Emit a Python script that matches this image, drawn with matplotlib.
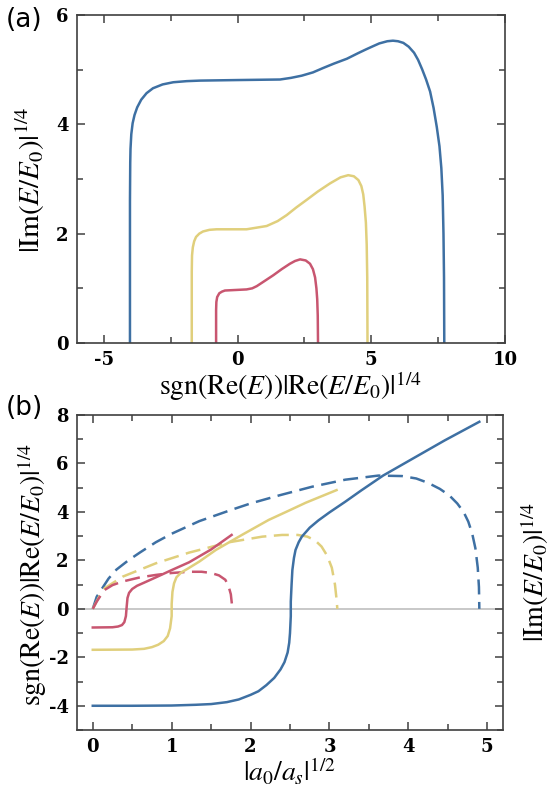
import matplotlib
matplotlib.use("Agg")
import matplotlib.pyplot as plt
from matplotlib.ticker import MultipleLocator
from matplotlib.font_manager import FontProperties

plt.rcParams['mathtext.fontset'] = 'stix'
plt.rcParams['axes.unicode_minus'] = False

BLUE = "#3e70a3"
YELLOW = "#e0cf7c"
RED = "#c85670"

# ---------------- panel (a) data: Im vs Re ----------------
blue_a_re = [-4.02, -4.02, -4.01, -4.0, -3.97, -3.92, -3.85, -3.75, -3.6, -3.4, -3.16, -2.8, -2.4, -1.9, -1.4, 0.0,
             1.59, 2.0, 2.4, 2.82, 3.2, 3.6, 4.09, 4.5, 4.8, 5.07, 5.3, 5.6, 5.81, 6.0, 6.2, 6.4, 6.6, 6.75, 6.9,
             7.05, 7.2, 7.33, 7.45, 7.55, 7.62, 7.67, 7.70, 7.72, 7.73]
blue_a_im = [0.0, 2.6, 3.3, 3.55, 3.82, 4.02, 4.17, 4.31, 4.45, 4.57, 4.66, 4.73, 4.77, 4.79, 4.80, 4.81,
             4.82, 4.85, 4.89, 4.95, 5.03, 5.11, 5.2, 5.3, 5.37, 5.43, 5.48, 5.52, 5.53, 5.52, 5.49, 5.42, 5.31,
             5.18, 5.01, 4.82, 4.6, 4.3, 3.95, 3.6, 3.2, 2.7, 2.0, 1.2, 0.0]

yellow_a_re = [-1.71, -1.71, -1.70, -1.67, -1.62, -1.55, -1.43, -1.29, -1.05, -0.78, 0.34, 1.09, 1.5, 1.84, 2.2,
               2.59, 3.0, 3.46, 3.85, 4.14, 4.35, 4.52, 4.63, 4.70, 4.75, 4.80, 4.83, 4.85, 4.86]
yellow_a_im = [0.0, 1.3, 1.6, 1.75, 1.86, 1.94, 2.0, 2.04, 2.07, 2.08, 2.08, 2.14, 2.23, 2.34, 2.48,
               2.62, 2.77, 2.92, 3.03, 3.07, 3.05, 2.98, 2.87, 2.72, 2.5, 2.2, 1.8, 1.2, 0.0]

red_a_re = [-0.80, -0.80, -0.79, -0.76, -0.68, -0.58, -0.47, 0.34, 0.55, 0.72, 1.0, 1.34, 1.65, 1.96, 2.15, 2.34,
            2.55, 2.71, 2.82, 2.90, 2.95, 2.98, 3.0, 3.01]
red_a_im = [0.0, 0.6, 0.75, 0.84, 0.91, 0.94, 0.96, 0.98, 1.0, 1.04, 1.13, 1.24, 1.35, 1.45, 1.50, 1.53,
            1.51, 1.45, 1.35, 1.2, 1.0, 0.8, 0.5, 0.0]

# ---------------- panel (b) data vs |a0/as|^(1/2) ----------------
blue_s_re = [0.0, 0.5, 1.0, 1.3, 1.5, 1.7, 1.85, 2.0, 2.1, 2.2, 2.3, 2.38, 2.43, 2.47, 2.49, 2.50, 2.51, 2.51,
             2.52, 2.53, 2.55, 2.57, 2.61, 2.65, 2.75, 2.86, 3.0, 3.2, 3.4, 3.68, 4.04, 4.46, 4.90]
blue_re = [-4.0, -4.0, -3.99, -3.96, -3.93, -3.85, -3.74, -3.55, -3.4, -3.15, -2.85, -2.5, -2.2, -1.8, -1.4, -1.0,
           -0.3, 0.3, 1.0, 1.6, 2.1, 2.43, 2.75, 2.98, 3.35, 3.65, 3.98, 4.42, 4.88, 5.5, 6.17, 6.95, 7.72]
blue_s_im = [0.0, 0.05, 0.12, 0.2, 0.3, 0.45, 0.6, 0.8, 1.0, 1.35, 1.77, 2.0, 2.36, 2.78, 3.2, 3.62, 3.92, 4.1,
             4.25, 4.4, 4.52, 4.62, 4.7, 4.76, 4.81, 4.85, 4.88, 4.895, 4.9]
blue_im = [0.0, 0.5, 0.85, 1.25, 1.62, 2.0, 2.33, 2.75, 3.1, 3.62, 4.1, 4.35, 4.68, 5.04, 5.33, 5.50, 5.48, 5.38,
           5.2, 4.95, 4.68, 4.35, 4.0, 3.6, 3.1, 2.5, 1.7, 0.9, 0.0]

yellow_s_re = [0.0, 0.5, 0.65, 0.75, 0.83, 0.9, 0.95, 0.98, 1.0, 1.0, 1.01, 1.03, 1.06, 1.12, 1.2, 1.35, 1.56,
               1.89, 2.23, 2.45, 2.7, 3.09]
yellow_re = [-1.69, -1.68, -1.65, -1.58, -1.48, -1.33, -1.12, -0.8, -0.3, 0.2, 0.7, 1.05, 1.3, 1.5, 1.65, 1.95,
             2.43, 3.05, 3.67, 4.0, 4.38, 4.9]
yellow_s_im = [0.0, 0.08, 0.15, 0.38, 0.8, 1.22, 1.73, 2.15, 2.4, 2.6, 2.72, 2.82, 2.9, 2.97, 3.03, 3.07, 3.09, 3.1]
yellow_im = [0.0, 0.5, 0.85, 1.33, 1.88, 2.32, 2.75, 2.98, 3.05, 3.05, 2.98, 2.82, 2.57, 2.2, 1.7, 1.0, 0.4, 0.0]

red_s_re = [0.0, 0.25, 0.32, 0.37, 0.40, 0.42, 0.43, 0.44, 0.46, 0.5, 0.56, 0.65, 0.8, 1.0, 1.22, 1.5, 1.76]
red_re = [-0.77, -0.76, -0.73, -0.67, -0.55, -0.3, 0.1, 0.45, 0.66, 0.82, 0.95, 1.08, 1.3, 1.6, 1.92, 2.45, 3.05]
red_s_im = [0.0, 0.05, 0.1, 0.15, 0.25, 0.38, 0.6, 0.8, 1.0, 1.22, 1.38, 1.5, 1.6, 1.68, 1.72, 1.75, 1.77]
red_im = [0.0, 0.3, 0.55, 0.78, 0.98, 1.13, 1.3, 1.40, 1.48, 1.53, 1.53, 1.48, 1.38, 1.2, 0.95, 0.6, 0.0]

W, H = 559, 793
fig = plt.figure(figsize=(W / 100, H / 100), dpi=100)


def box(l, r, t, b):
    return [l / W, (H - b) / H, (r - l) / W, (b - t) / H]


tick_fp = FontProperties(family='DejaVu Serif', weight='bold', size=13)
LW = 1.8
DASH = (0, (6, 3))


def style(ax):
    for sp in ax.spines.values():
        sp.set_color('#404040')
        sp.set_linewidth(1.2)
    ax.tick_params(which='both', direction='in', top=True, right=True, color='#404040', width=1.1)
    ax.tick_params(which='major', length=6, pad=6)
    ax.tick_params(which='minor', length=4)
    for lab in ax.get_xticklabels() + ax.get_yticklabels():
        lab.set_fontproperties(tick_fp)


# ---- panel (a)
axa = fig.add_axes(box(77, 505, 15, 343))
axa.plot(blue_a_re, blue_a_im, color=BLUE, lw=LW)
axa.plot(yellow_a_re, yellow_a_im, color=YELLOW, lw=LW)
axa.plot(red_a_re, red_a_im, color=RED, lw=LW)
axa.set_xlim(-6, 10)
axa.set_ylim(0, 6)
axa.set_xticks([-5, 0, 5, 10])
axa.set_yticks([0, 2, 4, 6])
axa.xaxis.set_minor_locator(MultipleLocator(2.5))
axa.yaxis.set_minor_locator(MultipleLocator(1))
style(axa)
axa.set_xlabel(r'$\mathrm{sgn}(\mathrm{Re}(E))|\mathrm{Re}(E/E_0)|^{1/4}$', fontsize=20, labelpad=0)
fig.text(30 / W, 1 - 180 / H, r'$|\mathrm{Im}(E/E_0)|^{1/4}$', fontsize=21, rotation=90,
         va='center', ha='center')
fig.text(6 / W, 1 - 20 / H, '(a)', fontsize=19, va='center', ha='left', family='DejaVu Sans')

# ---- panel (b)
axb = fig.add_axes(box(77, 503, 415, 730))
axb.axhline(0, color='#c8c8c8', lw=1.4, zorder=0)
axb.plot(blue_s_im, blue_im, color=BLUE, lw=LW, ls=DASH)
axb.plot(yellow_s_im, yellow_im, color=YELLOW, lw=LW, ls=DASH)
axb.plot(red_s_im, red_im, color=RED, lw=LW, ls=DASH)
axb.plot(blue_s_re, blue_re, color=BLUE, lw=LW)
axb.plot(yellow_s_re, yellow_re, color=YELLOW, lw=LW)
axb.plot(red_s_re, red_re, color=RED, lw=LW)
axb.set_xlim(-0.2, 5.2)
axb.set_ylim(-5, 8)
axb.set_xticks([0, 1, 2, 3, 4, 5])
axb.set_yticks([-4, -2, 0, 2, 4, 6, 8])
axb.xaxis.set_minor_locator(MultipleLocator(0.5))
axb.yaxis.set_minor_locator(MultipleLocator(1))
style(axb)
axb.set_xlabel(r'$|a_0/a_s|^{1/2}$', fontsize=20, labelpad=0)
fig.text(32 / W, 1 - 574 / H, r'$\mathrm{sgn}(\mathrm{Re}(E))|\mathrm{Re}(E/E_0)|^{1/4}$', fontsize=20,
         rotation=90, va='center', ha='center')
fig.text(535 / W, 1 - 572 / H, r'$|\mathrm{Im}(E/E_0)|^{1/4}$', fontsize=20, rotation=90,
         va='center', ha='center')
fig.text(6 / W, 1 - 408 / H, '(b)', fontsize=19, va='center', ha='left', family='DejaVu Sans')

fig.savefig('out.png', dpi=100)
